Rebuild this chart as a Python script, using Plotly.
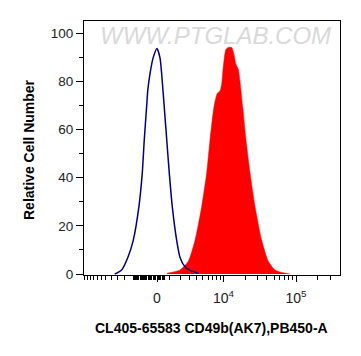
import numpy as np
import plotly.graph_objects as go

# ---- data (fluorescence intensity, relative cell number) ----
iso_x = [-4400, -3400, -2600, -2050, -1500, -1200, -1030, -830, -740, -560, -290, 0,
         240, 370, 580, 780, 990, 1250, 1650, 1970, 2500, 3100, 4200]
iso_y = [0, 1.7, 7.2, 14, 28, 42, 55.6, 69.4, 76, 83, 90, 93.6,
         89.6, 83, 69, 55.6, 42, 28, 14, 7, 3, 1.5, 0.3]

ab_x = [800, 1970, 2880, 3760, 4800, 5720, 6400, 7320, 8170, 8930, 9440, 9940,
        10750, 11580, 13040, 14040, 14960, 16100, 18530, 20580, 23370, 27380,
        33850, 41700, 51530, 65000, 82750]
ab_y = [0.3, 1.7, 5.3, 14, 28, 42, 55.6, 69.4, 75, 76, 79, 86,
        93, 94, 94, 91, 87, 85, 69.4, 55.6, 42, 28,
        14, 5.3, 1.7, 0.6, 0]

x_tick_values = [0, 1e4, 1e5]
x_tick_labels = ["0", "10<sup>4</sup>", "10<sup>5</sup>"]
x_minor_values = ([-k * 1000 for k in range(3, 13)] +
                  [k * 100 for k in range(-20, 7)] +
                  [k * 1000 for k in range(1, 10)] +
                  [k * 10000 for k in range(2, 10)] +
                  [2e5, 3e5])
y_tick_values = [0, 20, 40, 60, 80, 100]

COF = 2494.0


def T(v):
    return np.arcsinh(np.asarray(v, dtype=float) / COF) / np.log(10)


fig = go.Figure()
fig.add_trace(go.Scatter(x=T(ab_x), y=ab_y, mode="lines", fill="tozeroy",
                         fillcolor="#ff0000", line=dict(color="#ff0000", width=0.5),
                         line_shape="spline", line_smoothing=0.6, hoverinfo="skip"))
fig.add_trace(go.Scatter(x=T(iso_x), y=iso_y, mode="lines",
                         line=dict(color="#000080", width=1.5),
                         line_shape="spline", line_smoothing=0.6, hoverinfo="skip"))

# page body has an 8px margin, so the figure is shrunk and shifted to compensate
fig.update_layout(
    width=353, height=348,
    margin=dict(l=76, r=21, t=13, b=81),
    paper_bgcolor="white", plot_bgcolor="white",
    showlegend=False,
    font=dict(family="Liberation Sans, Arial, sans-serif", size=13, color="#222"),
)
fig.update_xaxes(
    range=[-1.0, 2.507], showgrid=False, zeroline=False,
    showline=True, linecolor="black", linewidth=1, mirror=True,
    ticks="outside", ticklen=6, tickcolor="black", tickwidth=1,
    tickvals=list(T(x_tick_values)), ticktext=x_tick_labels,
    tickfont=dict(size=14, color="#222"), ticklabelstandoff=4,
    minor=dict(tickvals=list(T(x_minor_values)), ticks="outside", ticklen=4,
               tickcolor="black", tickwidth=1, showgrid=False),
)
fig.update_yaxes(
    range=[-0.4, 105], showgrid=False, zeroline=False,
    showline=True, linecolor="black", linewidth=1, mirror=True,
    ticks="outside", ticklen=7, tickcolor="black", tickwidth=1,
    tickvals=y_tick_values, tickfont=dict(size=13.5, color="#222"),
    minor=dict(dtick=10, ticks="outside", ticklen=4, tickcolor="black",
               tickwidth=1, showgrid=False),
)

fig.add_annotation(text="WWW.PTGLAB.COM", xref="paper", yref="paper",
                   x=(215.5 - 84) / 256, y=(275 - 35) / 254, showarrow=False,
                   xanchor="center", yanchor="middle",
                   font=dict(size=24, color="#d9d9d9", style="italic",
                             family="Liberation Sans, Arial, sans-serif"))
fig.add_annotation(text="<b>Relative Cell Number</b>", xref="paper", yref="paper",
                   x=(29 - 84) / 256, y=(275 - 150) / 254, textangle=-90,
                   showarrow=False, xanchor="center", yanchor="middle",
                   font=dict(size=14, color="black"))
fig.add_annotation(text="<b>CL405-65583 CD49b(AK7),PB450-A</b>", xref="paper",
                   yref="paper", x=(211.5 - 84) / 256, y=(275 - 328) / 254,
                   showarrow=False, xanchor="center", yanchor="middle",
                   font=dict(size=14, color="black"))

fig.write_html("out.html")
